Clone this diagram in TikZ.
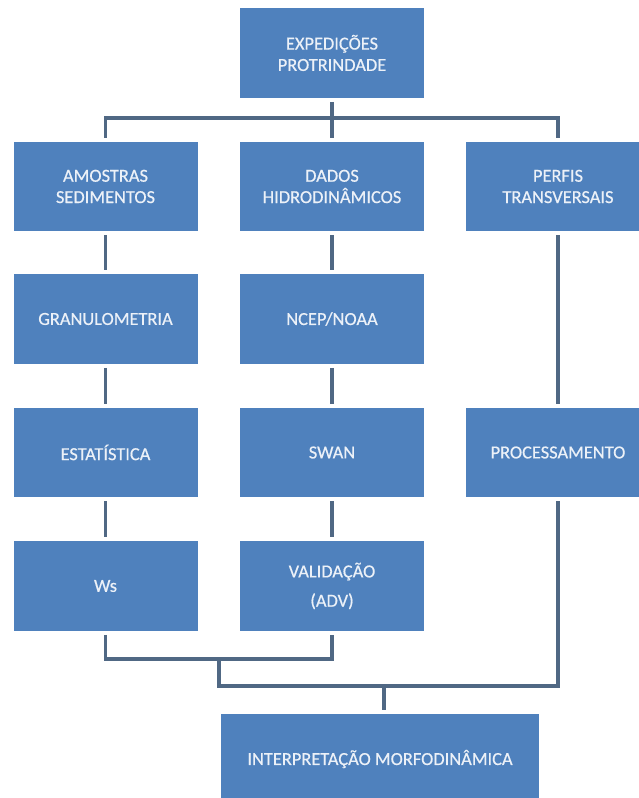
\documentclass[tikz,border=0pt]{standalone}
\usepackage{fontspec}
\setmainfont{Carlito}
\newfontfamily\boxfont{Carlito}[FakeBold=0.5]
\usepackage{tikz}

\definecolor{boxblue}{RGB}{79,129,189}
\definecolor{linegray}{RGB}{80,104,132}
\definecolor{boxtext}{RGB}{236,241,248}

\begin{document}
\begin{tikzpicture}[x=0.75pt, y=-0.75pt,
    box/.style={fill=boxblue, text=boxtext, align=center, font=\boxfont\fontsize{13.8}{16}\selectfont,
        minimum width=138pt, minimum height=67pt, inner sep=0pt},
    link/.style={draw=linegray, line width=2.5pt, shorten <=3pt, shorten >=3pt}]
    % Picture frame
    \useasboundingbox (0,0) rectangle (638,798);

    % Top box
    \node[box] (exped) at (332,53) {EXPEDIÇÕES\\PROTRINDADE};

    % First row
    \node[box] (amostras) at (105.5,186.5) {AMOSTRAS\\SEDIMENTOS};
    \node[box] (dados) at (332,186.5) {DADOS\\HIDRODINÂMICOS};
    \node[box] (perfis) at (558,186.5) {PERFIS\\TRANSVERSAIS};

    % Sediment column
    \node[box] (granul) at (105.5,319) {GRANULOMETRIA};
    \node[box] (estat) at (105.5,452.5) {ESTATÍSTICA};
    \node[box] (ws) at (105.5,586) {Ws};

    % Hydrodynamic column
    \node[box] (ncep) at (332,319) {NCEP/NOAA};
    \node[box] (swan) at (332,452.5) {SWAN};
    \node[box] (valid) at (332,586) {VALIDAÇÃO\\[6pt](ADV)};

    % Profiles column
    \node[box] (proc) at (558,452.5) {PROCESSAMENTO};

    % Final box
    \node[box, minimum width=238.5pt] (interp) at (380,759) {INTERPRETAÇÃO MORFODINÂMICA};

    % Junction points
    \coordinate (split) at (332,118);
    \coordinate (joinA) at (219,659);
    \coordinate (joinB) at (384,686);

    % Connectors
    \draw[link] (exped) -- (dados);
    \draw[link] (amostras) |- (split) -| (perfis);
    \draw[link] (amostras) -- (granul);
    \draw[link] (granul) -- (estat);
    \draw[link] (estat) -- (ws);
    \draw[link] (dados) -- (ncep);
    \draw[link] (ncep) -- (swan);
    \draw[link] (swan) -- (valid);
    \draw[link] (perfis) -- (proc);
    \draw[link] (ws) |- (joinA) -| (valid);
    \draw[link, shorten <=0pt] (joinA) |- (joinB) -| (proc);
    \draw[link, shorten <=0pt] (joinB) -- (joinB |- interp.north);
\end{tikzpicture}
\end{document}
